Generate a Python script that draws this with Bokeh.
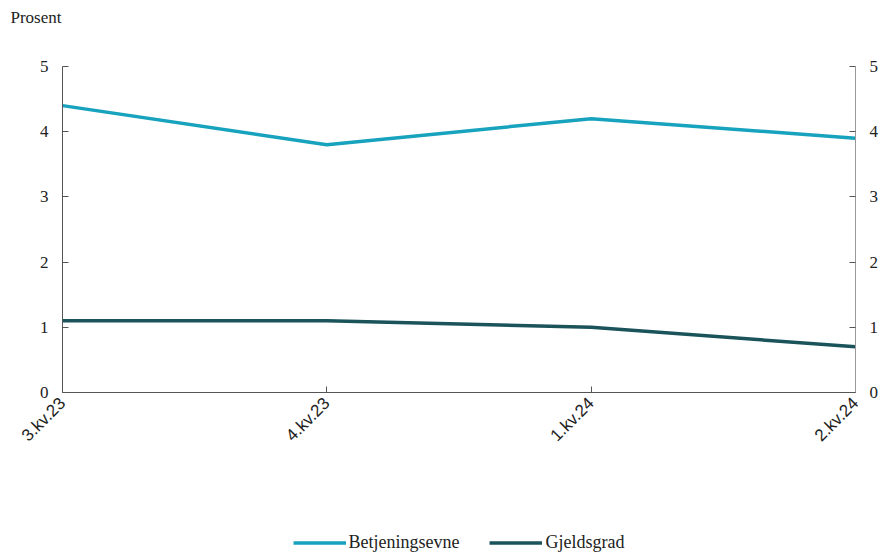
from bokeh.plotting import figure
from bokeh.layouts import column
from bokeh.models import (LinearAxis, Range1d, FixedTicker, Legend, LegendItem,
                          ColumnDataSource, Title)
from bokeh.embed import file_html
from bokeh.resources import INLINE
import math

# Quarterly values (per cent)
quarters = ["3.kv.23", "4.kv.23", "1.kv.24", "2.kv.24"]
betjeningsevne = [4.4, 3.8, 4.2, 3.9]
gjeldsgrad = [1.1, 1.1, 1.0, 0.7]
series_names = ["Betjeningsevne", "Gjeldsgrad"]
y_ticks = [0, 1, 2, 3, 4, 5]
unit_label = "Prosent"

x = list(range(len(quarters)))
src = ColumnDataSource(dict(x=x, b=betjeningsevne, g=gjeldsgrad))

COL_B = "#17a2bd"
COL_G = "#1b535b"
AXIS_COL = "#555555"
TEXT_COL = "#222222"
SERIF = "Liberation Serif"
LW = 3.5
W = 884


def bare(fig):
    fig.outline_line_color = None
    fig.xgrid.visible = False
    fig.ygrid.visible = False
    fig.background_fill_color = "white"
    fig.border_fill_color = "white"


# Main chart
p = figure(width=W, height=512, output_backend="svg", toolbar_location=None,
           x_range=Range1d(0, len(quarters) - 1), y_range=Range1d(0, 5),
           y_axis_location=None, x_axis_location=None,
           title=unit_label,
           min_border_left=62, min_border_right=29, min_border_top=66,
           min_border_bottom=120)
bare(p)

# unit text in the top-left corner
p.title.align = "left"
p.title.vertical_align = "top"
p.title.offset = -52
p.title.standoff = 0
p.title.text_font = SERIF
p.title.text_font_size = "17px"
p.title.text_font_style = "normal"
p.title.text_color = TEXT_COL

# blank band between the unit text and the plot area
p.add_layout(Title(text="\u00a0", text_font_size="2px", standoff=34), "above")


def style_y(ax):
    ax.ticker = FixedTicker(ticks=y_ticks)
    ax.axis_line_color = AXIS_COL
    ax.major_tick_line_color = AXIS_COL
    ax.major_tick_in = 6
    ax.major_tick_out = 0
    ax.minor_tick_line_color = None
    ax.major_label_text_font = SERIF
    ax.major_label_text_font_size = "17px"
    ax.major_label_text_color = TEXT_COL
    ax.major_label_standoff = 14


left = LinearAxis()
style_y(left)
p.add_layout(left, "left")
right = LinearAxis()
style_y(right)
right.axis_line_color = "#999999"
p.add_layout(right, "right")

bottom = LinearAxis()
bottom.ticker = FixedTicker(ticks=x)
bottom.major_label_overrides = {i: q for i, q in enumerate(quarters)}
bottom.axis_line_color = AXIS_COL
bottom.major_tick_line_color = AXIS_COL
bottom.major_tick_in = 6
bottom.major_tick_out = 0
bottom.minor_tick_line_color = None
bottom.major_label_orientation = math.pi / 4
bottom.major_label_text_font = "Liberation Sans"
bottom.major_label_text_font_size = "17px"
bottom.major_label_text_color = TEXT_COL
bottom.major_label_standoff = 8
p.add_layout(bottom, "below")

p.line("x", "b", source=src, line_color=COL_B, line_width=LW)
p.line("x", "g", source=src, line_color=COL_G, line_width=LW)

# Legend row: a slim figure whose only job is to show the two series keys
leg = figure(width=W, height=40, output_backend="svg", toolbar_location=None,
             x_range=Range1d(0, 1), y_range=Range1d(0, 1),
             x_axis_location=None, y_axis_location=None,
             min_border_left=40, min_border_right=0, min_border_top=20,
             min_border_bottom=0)
bare(leg)
nan = float("nan")
key_b = leg.line(x=[nan], y=[nan], line_color=COL_B, line_width=LW)
key_g = leg.line(x=[nan], y=[nan], line_color=COL_G, line_width=LW)
legend = Legend(items=[LegendItem(label=series_names[0], renderers=[key_b]),
                       LegendItem(label=series_names[1], renderers=[key_g])],
                orientation="horizontal", location="center",
                glyph_width=53, glyph_height=20, spacing=30, label_standoff=3,
                label_text_font=SERIF, label_text_font_size="18px",
                label_text_color=TEXT_COL, border_line_color=None,
                background_fill_alpha=0, padding=0, margin=0)
leg.add_layout(legend, "center")

open("out.html", "w").write(file_html(column(p, leg, spacing=0), INLINE))
